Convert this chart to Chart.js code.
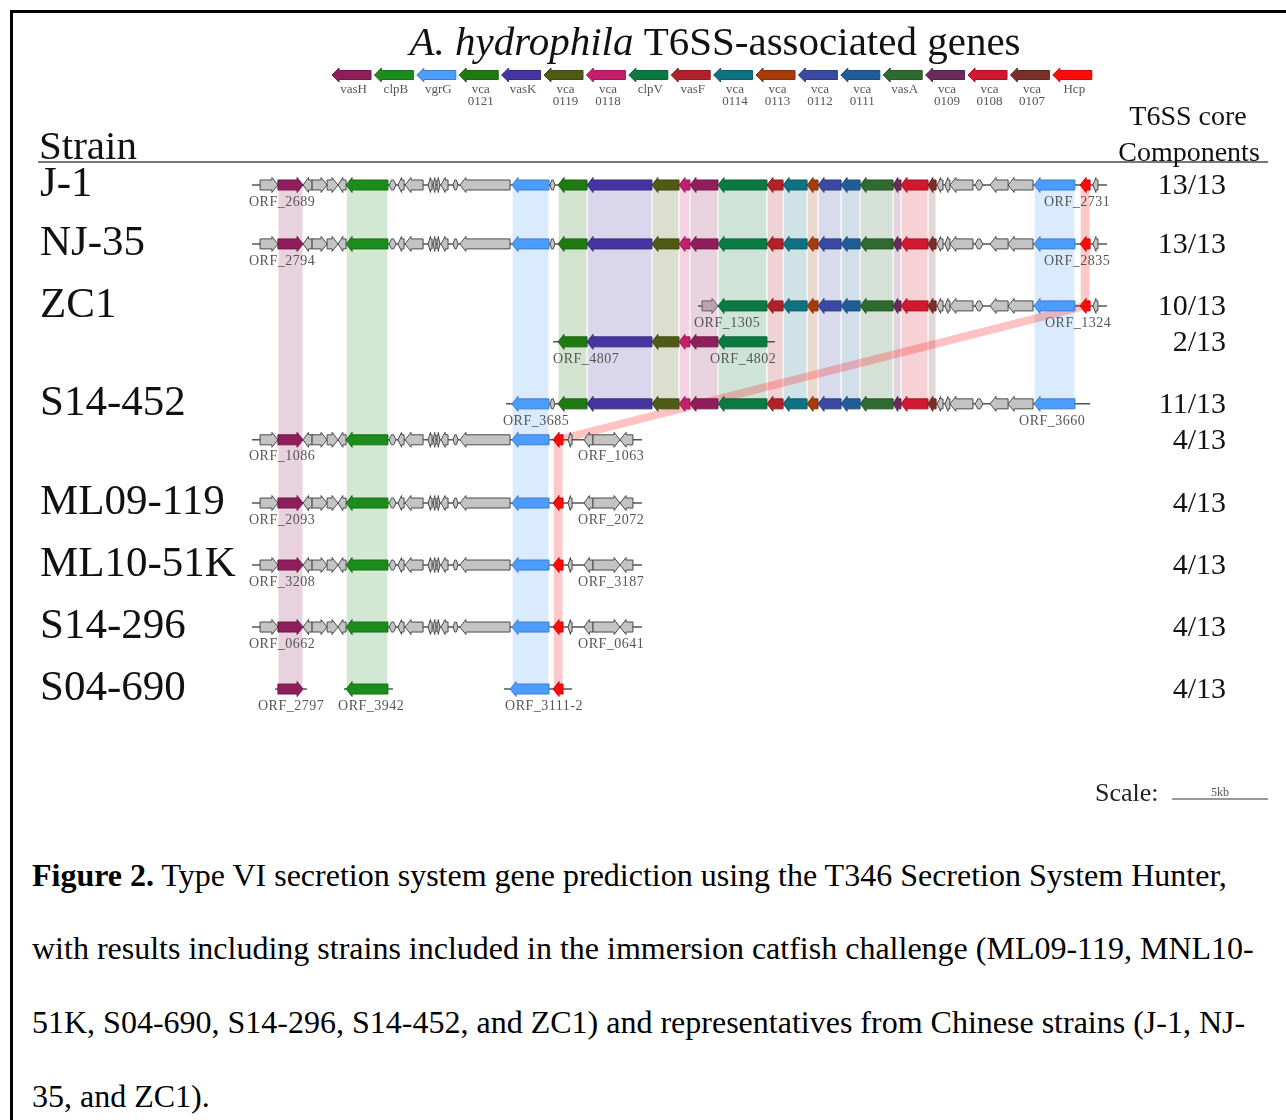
<!DOCTYPE html>
<html>
<head>
<meta charset="utf-8">
<title>T6SS gene clusters</title>
<script src="https://cdn.jsdelivr.net/npm/chart.js@4.4.1/dist/chart.umd.min.js"></script>
<style>
  body { margin: 0; background: #fff; width: 1286px; height: 1120px; overflow: hidden; position: relative;
         font-family: "Liberation Serif", "Times New Roman", serif; }
  #frame { position: absolute; left: 10px; top: 10px; width: 1290px; height: 1130px;
           border-left: 3px solid #000; border-top: 3px solid #000; }
  #wrap { position: absolute; left: 0; top: 0; width: 1286px; height: 840px; }
  .cap { position: absolute; left: 32px; font-size: 32px; line-height: 36px; white-space: nowrap; color: #000; }
</style>
</head>
<body>
<div id="frame"></div>
<div id="wrap"><canvas id="geneCanvas" width="1286" height="840"></canvas></div>
<div class="cap" style="top:857px"><b>Figure 2.</b> Type VI secretion system gene prediction using the T346 Secretion System Hunter,</div>
<div class="cap" style="top:930px">with results including strains included in the immersion catfish challenge (ML09-119, MNL10-</div>
<div class="cap" style="top:1004px">51K, S04-690, S14-296, S14-452, and ZC1) and representatives from Chinese strains (J-1, NJ-</div>
<div class="cap" style="top:1078px">35, and ZC1).</div>
<script>
/* gene map: x in kb from the start of the J-1 locus, y in track units */
const X_MIN = -13.125, X_MAX = 53.854;
const Y_MIN = -2.984, Y_MAX = 10.565;

const strains = ['J-1', 'NJ-35', 'ZC1', 'S14-452', 'ML09-119', 'ML10-51K', 'S14-296', 'S04-690'];
const strainTrack = [0, 1, 2, 4, 6, 7, 8, 9];
const trackY = [0, 0.95, 1.95, 2.53, 3.53, 4.11, 5.13, 6.13, 7.13, 8.13];
const coreCounts = ['13/13', '13/13', '10/13', '2/13', '11/13', '4/13', '4/13', '4/13', '4/13', '4/13'];

const legendKeys = ['vasH', 'clpB', 'vgrG', 'vca0121', 'vasK', 'vca0119', 'vca0118', 'clpV', 'vasF',
  'vca0114', 'vca0113', 'vca0112', 'vca0111', 'vasA', 'vca0109', 'vca0108', 'vca0107', 'Hcp'];
const legendLabels = [['vasH'], ['clpB'], ['vgrG'], ['vca', '0121'], ['vasK'], ['vca', '0119'], ['vca', '0118'],
  ['clpV'], ['vasF'], ['vca', '0114'], ['vca', '0113'], ['vca', '0112'], ['vca', '0111'], ['vasA'],
  ['vca', '0109'], ['vca', '0108'], ['vca', '0107'], ['Hcp']];

const geneColors = {
  vasH: '#8e1f5c', clpB: '#1c8c1c', vgrG: '#4d9cff', vca0121: '#1f7a12', vasK: '#4535a0',
  vca0119: '#4f5a14', vca0118: '#c41f6c', clpV: '#0b7a42', vasF: '#b0222a', vca0114: '#0f7282',
  vca0113: '#a63c0a', vca0112: '#3a4aa2', vca0111: '#205c98', vasA: '#2f6a30', vca0109: '#6a2a5c',
  vca0108: '#d0182e', vca0107: '#7a3028', Hcp: '#ff0a0a', grey: '#c4c4c4', other: '#b9a3ad'
};

// [start kb, end kb, gene, strand]
const leftGenes = [
  [0.42, 1.35, 'grey', 1], [1.35, 2.66, 'vasH', 1], [2.66, 3.13, 'grey', -1], [3.13, 3.91, 'grey', 1],
  [3.91, 4.48, 'grey', 1], [4.48, 4.90, 'grey', -1], [4.90, 7.08, 'clpB', -1], [7.14, 7.50, 'grey', 0],
  [7.60, 7.92, 'grey', -1], [7.97, 8.91, 'grey', -1], [9.17, 9.38, 'grey', -1], [9.43, 9.58, 'grey', -1],
  [9.64, 9.79, 'grey', 1], [9.84, 10.21, 'grey', -1], [10.47, 10.73, 'grey', 0], [10.83, 13.44, 'grey', -1],
  [13.54, 15.47, 'vgrG', -1]
];
const spacerGene = [[15.52, 15.78, 'grey', 0]];
const coreGenes = [
  [15.94, 17.45, 'vca0121', -1], [17.45, 20.83, 'vasK', -1], [20.83, 22.24, 'vca0119', -1],
  [22.24, 22.81, 'vca0118', -1], [22.81, 24.27, 'vasH', -1], [24.27, 26.82, 'clpV', -1],
  [26.82, 27.66, 'vasF', -1], [27.66, 28.91, 'vca0114', -1], [28.91, 29.48, 'vca0113', -1],
  [29.48, 30.68, 'vca0112', -1], [30.68, 31.67, 'vca0111', -1], [31.67, 33.39, 'vasA', -1],
  [33.39, 33.80, 'vca0109', -1], [33.80, 35.21, 'vca0108', -1], [35.21, 35.63, 'vca0107', -1]
];
const rightGenes = [
  [35.68, 35.99, 'grey', -1], [36.09, 36.35, 'grey', -1], [36.35, 37.55, 'grey', -1], [37.66, 38.07, 'grey', 0],
  [38.44, 39.38, 'grey', -1], [39.38, 40.68, 'grey', -1], [40.73, 42.86, 'vgrG', -1],
  [43.13, 43.65, 'Hcp', -1], [43.80, 44.06, 'grey', -1]
];
const hcpTail = [
  [15.68, 16.20, 'Hcp', -1], [16.46, 16.67, 'grey', -1], [17.29, 17.76, 'grey', -1],
  [17.76, 19.17, 'grey', 1], [19.17, 19.84, 'grey', -1]
];
const zc1Start = [[23.44, 24.27, 'other', 1]];
const s14Start = [[13.54, 15.47, 'vgrG', -1]];
const s04Genes = [[1.35, 2.66, 'vasH', 1], [4.90, 7.08, 'clpB', -1], [13.44, 15.47, 'vgrG', -1], [15.68, 16.20, 'Hcp', -1]];

const fullLocus = [...leftGenes, ...spacerGene, ...coreGenes, ...rightGenes];
const shortLocus = [...leftGenes, ...hcpTail];
const rowGenes = [
  fullLocus, fullLocus,
  [...zc1Start, ...coreGenes.slice(5), ...rightGenes],
  coreGenes.slice(0, 6),
  [...s14Start, ...spacerGene, ...coreGenes, ...rightGenes.slice(0, 7)],
  shortLocus, shortLocus, shortLocus, shortLocus,
  s04Genes
];
const rowLines = [
  [[0, 44.53]], [[0, 44.53]], [[23.23, 44.53]], [[15.68, 27.24]], [[13.23, 43.65]],
  [[0, 20.31]], [[0, 20.31]], [[0, 20.31]], [[0, 20.31]],
  [[1.20, 2.86], [4.79, 7.34], [13.13, 16.67]]
];
const orfLabels = [
  [[-0.16, 'ORF_2689'], [41.25, 'ORF_2731']],
  [[-0.16, 'ORF_2794'], [41.25, 'ORF_2835']],
  [[23.02, 'ORF_1305'], [41.30, 'ORF_1324']],
  [[15.68, 'ORF_4807'], [23.85, 'ORF_4802']],
  [[13.07, 'ORF_3685'], [39.95, 'ORF_3660']],
  [[-0.16, 'ORF_1086'], [16.98, 'ORF_1063']],
  [[-0.16, 'ORF_2093'], [16.98, 'ORF_2072']],
  [[-0.16, 'ORF_3208'], [16.98, 'ORF_3187']],
  [[-0.16, 'ORF_0662'], [16.98, 'ORF_0641']],
  [[0.31, 'ORF_2797'], [4.48, 'ORF_3942'], [13.18, 'ORF_3111-2']]
];
// shaded homology columns: [start, end, gene, from track, to track]
const bands = [
  [1.35, 2.66, 'vasH', 0, 9], [4.90, 7.08, 'clpB', 0, 9], [13.54, 15.47, 'vgrG', 0, 9],
  ...coreGenes.map(g => [g[0], g[1], g[2], 0, 4]),
  [40.73, 42.86, 'vgrG', 0, 4], [43.13, 43.65, 'Hcp', 0, 2], [15.68, 16.20, 'Hcp', 5, 9]
];
// Hcp relocated in S14-452: [from kb, from track, to kb, to track]
const hcpLink = [43.39, 2, 15.94, 5];
const scaleBarKb = [47.92, 52.92];

function hexToRgba(hex, alpha) {
  const n = parseInt(hex.replace('#', ''), 16);
  return `rgba(${(n >> 16) & 255}, ${(n >> 8) & 255}, ${n & 255}, ${alpha})`;
}
function shade(hex, f) {
  const n = parseInt(hex.replace('#', ''), 16);
  const c = [(n >> 16) & 255, (n >> 8) & 255, n & 255].map(v => Math.round(v * f));
  return `rgb(${c[0]}, ${c[1]}, ${c[2]})`;
}

function arrowPath(ctx, x1, x2, y, strand, bh, hh, hl) {
  const w = x2 - x1;
  const h = Math.min(hl, w * (strand === 0 ? 0.35 : 0.6));
  ctx.beginPath();
  if (strand > 0) {
    ctx.moveTo(x1, y - bh); ctx.lineTo(x2 - h, y - bh); ctx.lineTo(x2 - h, y - hh); ctx.lineTo(x2, y);
    ctx.lineTo(x2 - h, y + hh); ctx.lineTo(x2 - h, y + bh); ctx.lineTo(x1, y + bh);
  } else if (strand < 0) {
    ctx.moveTo(x2, y - bh); ctx.lineTo(x1 + h, y - bh); ctx.lineTo(x1 + h, y - hh); ctx.lineTo(x1, y);
    ctx.lineTo(x1 + h, y + hh); ctx.lineTo(x1 + h, y + bh); ctx.lineTo(x2, y + bh);
  } else {
    ctx.moveTo(x1, y); ctx.lineTo(x1 + h, y - bh); ctx.lineTo(x2 - h, y - bh); ctx.lineTo(x2, y);
    ctx.lineTo(x2 - h, y + bh); ctx.lineTo(x1 + h, y + bh);
  }
  ctx.closePath();
}

function drawGene(ctx, x1, x2, y, strand, key, bh, hh, hl) {
  const col = geneColors[key];
  arrowPath(ctx, x1, x2, y, strand, bh, hh, hl);
  ctx.fillStyle = col;
  ctx.fill();
  ctx.lineWidth = 1;
  ctx.strokeStyle = key === 'grey' ? '#4a4a4a' : key === 'other' ? '#6a5a62' : shade(col, 0.8);
  ctx.stroke();
}

const genePlugin = {
  id: 'geneMap',
  beforeDatasetsDraw(chart) {
    const { ctx, scales: { x, y } } = chart;
    ctx.save();
    bands.forEach(([s, e, key, from, to]) => {
      const x1 = x.getPixelForValue(s), x2 = x.getPixelForValue(e);
      const y1 = y.getPixelForValue(trackY[from]), y2 = y.getPixelForValue(trackY[to]);
      ctx.fillStyle = hexToRgba(geneColors[key], key === 'Hcp' ? 0.22 : 0.2);
      ctx.fillRect(x1 + 0.6, y1, x2 - x1 - 1.2, y2 - y1);
    });
    ctx.strokeStyle = hexToRgba(geneColors.Hcp, 0.25);
    ctx.lineWidth = 8;
    ctx.beginPath();
    ctx.moveTo(x.getPixelForValue(hcpLink[0]), y.getPixelForValue(trackY[hcpLink[1]]));
    ctx.lineTo(x.getPixelForValue(hcpLink[2]), y.getPixelForValue(trackY[hcpLink[3]]));
    ctx.stroke();
    ctx.restore();
  },
  afterDatasetsDraw(chart) {
    const { ctx, scales: { x, y } } = chart;
    ctx.save();
    // genes
    rowGenes.forEach((genes, t) => {
      const py = y.getPixelForValue(trackY[t]);
      genes.forEach(([s, e, key, strand]) => {
        drawGene(ctx, x.getPixelForValue(s), x.getPixelForValue(e), py, strand, key, 5, 7.5, 6);
      });
    });
    // ORF labels
    ctx.fillStyle = '#555';
    ctx.font = '14px "Liberation Serif", serif';
    ctx.letterSpacing = '0.5px';
    ctx.textAlign = 'left';
    ctx.textBaseline = 'middle';
    orfLabels.forEach((labels, t) => {
      const py = y.getPixelForValue(trackY[t]) + 17;
      labels.forEach(([kb, txt]) => ctx.fillText(txt, x.getPixelForValue(kb), py));
    });
    ctx.letterSpacing = '0px';

    // strain names
    ctx.fillStyle = '#111';
    ctx.font = '43px "Liberation Serif", serif';
    strains.forEach((name, i) => ctx.fillText(name, 40, y.getPixelForValue(trackY[strainTrack[i]])));

    // core component counts
    ctx.font = '30px "Liberation Serif", serif';
    ctx.textAlign = 'right';
    coreCounts.forEach((c, t) => ctx.fillText(c, 1226, y.getPixelForValue(trackY[t]) + 1));

    // column headers
    ctx.textAlign = 'left';
    ctx.textBaseline = 'alphabetic';
    ctx.font = '41px "Liberation Serif", serif';
    ctx.fillText('Strain', 39, 159);
    ctx.strokeStyle = '#777';
    ctx.lineWidth = 2;
    ctx.beginPath(); ctx.moveTo(38, 162); ctx.lineTo(1268, 162); ctx.stroke();
    ctx.textAlign = 'center';
    ctx.font = '28px "Liberation Serif", serif';
    ctx.fillText('T6SS core', 1188, 125);
    ctx.fillText('Components', 1189, 161);

    // title
    ctx.textAlign = 'left';
    const ital = 'A. hydrophila', rest = ' T6SS-associated genes';
    ctx.font = 'italic 41px "Liberation Serif", serif';
    const w1 = ctx.measureText(ital).width;
    ctx.font = '41px "Liberation Serif", serif';
    const w2 = ctx.measureText(rest).width;
    const tx = 715 - (w1 + w2) / 2;
    ctx.font = 'italic 41px "Liberation Serif", serif';
    ctx.fillText(ital, tx, 55);
    ctx.font = '41px "Liberation Serif", serif';
    ctx.fillText(rest, tx + w1, 55);

    // gene legend
    const legX0 = 332, legStep = 42.4, legW = 39;
    ctx.textAlign = 'center';
    ctx.textBaseline = 'middle';
    legendKeys.forEach((key, i) => {
      const lx = legX0 + i * legStep;
      drawGene(ctx, lx, lx + legW, 75, -1, key, 4.5, 7, 7);
      ctx.fillStyle = '#555';
      ctx.font = '13px "Liberation Serif", serif';
      legendLabels[i].forEach((ln, j) => ctx.fillText(ln, lx + legW / 2 + 2, 90 + j * 11.5));
    });

    // scale bar
    ctx.fillStyle = '#222';
    ctx.textAlign = 'left';
    ctx.textBaseline = 'alphabetic';
    ctx.font = '26px "Liberation Serif", serif';
    ctx.fillText('Scale:', 1095, 801);
    const sx1 = x.getPixelForValue(scaleBarKb[0]), sx2 = x.getPixelForValue(scaleBarKb[1]);
    ctx.strokeStyle = '#777';
    ctx.lineWidth = 1.5;
    ctx.beginPath(); ctx.moveTo(sx1, 799); ctx.lineTo(sx2, 799); ctx.stroke();
    ctx.fillStyle = '#555';
    ctx.font = '12px "Liberation Serif", serif';
    ctx.textAlign = 'center';
    ctx.fillText('5kb', (sx1 + sx2) / 2, 796);
    ctx.restore();
  }
};

const datasets = [];
rowLines.forEach((segs, t) => segs.forEach(([a, b]) => datasets.push({
  data: [{ x: a, y: trackY[t] }, { x: b, y: trackY[t] }],
  showLine: true, borderColor: '#555', borderWidth: 1.5, pointRadius: 0
})));

const chart = new Chart(document.getElementById('geneCanvas').getContext('2d'), {
  type: 'scatter',
  data: { datasets },
  options: {
    responsive: false,
    animation: false,
    layout: { padding: 0 },
    plugins: { legend: { display: false }, tooltip: { enabled: false } },
    scales: {
      x: { type: 'linear', min: X_MIN, max: X_MAX, display: false },
      y: { type: 'linear', min: Y_MIN, max: Y_MAX, reverse: true, display: false }
    }
  },
  plugins: [genePlugin]
});
</script>
</body>
</html>
